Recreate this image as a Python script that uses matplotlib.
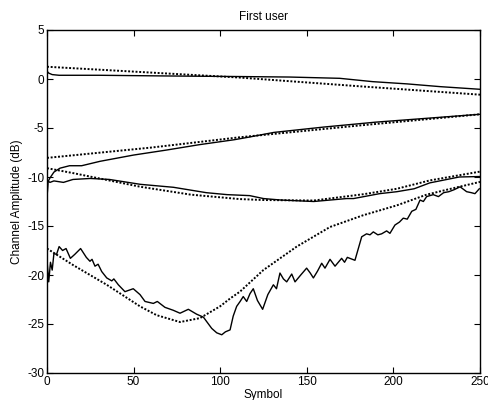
import matplotlib
matplotlib.use("Agg")
import matplotlib.pyplot as plt

plt.rcParams['font.family'] = ['Liberation Sans', 'DejaVu Sans']
plt.rcParams['axes.unicode_minus'] = False

# channel 1 (top) - estimate and true
ch1_sym = [0, 1, 3, 7, 30, 69, 111, 140, 169, 188, 208, 227, 250]
ch1_est = [0.8, 0.6, 0.45, 0.38, 0.38, 0.31, 0.25, 0.2, 0.07, -0.27, -0.5, -0.78, -1.05]
ch1_true_sym = [0, 111, 181, 250]
ch1_true = [1.25, 0.15, -0.75, -1.6]

# channel 2 (rising)
ch2_sym = [0, 0.5, 1.7, 4, 7.5, 13, 20, 30.6, 50, 69, 88, 108, 116, 131, 160, 190, 220, 250]
ch2_est = [-12.3, -10.5, -10.1, -9.5, -9.1, -8.85, -8.85, -8.4, -7.76, -7.25, -6.7, -6.2,
           -5.95, -5.45, -4.9, -4.4, -4.0, -3.6]
ch2_true_sym = [0, 60, 111, 180, 250]
ch2_true = [-8.05, -7.0, -5.95, -4.75, -3.6]

# channel 3 (shallow dip)
ch3_sym = [0, 0.5, 1.7, 4, 9.5, 15, 25, 36, 54, 73, 92, 104, 117, 125, 135, 154, 173, 177,
           192, 202, 212, 221, 238, 250]
ch3_est = [-12.3, -10.4, -10.55, -10.4, -10.55, -10.25, -10.15, -10.25, -10.75, -11.05, -11.6,
           -11.8, -11.9, -12.2, -12.35, -12.5, -12.2, -12.2, -11.7, -11.5, -11.2, -10.6, -10.0, -9.95]
ch3_true_sym = [0, 15, 54, 83, 111, 125, 154, 183, 202, 221, 250]
ch3_true = [-9.1, -9.6, -11.0, -11.8, -12.25, -12.35, -12.4, -11.75, -11.2, -10.35, -9.45]

# channel 4 (deep fade)
ch4_sym = [0, 1, 2, 3, 4, 5.5, 7, 9, 11, 13.5, 16, 19.4, 22.7, 24.8, 26, 27.7, 29.5, 31.6,
           34.5, 37.4, 38.6, 41.2, 45, 49.8, 53.7, 56.6, 61.4, 63.7, 68.1, 72.9, 76.8, 81.6,
           86.4, 90.3, 95.1, 98, 100.9, 103, 105.7, 107.5, 109.5, 111.5, 113.3, 115.3, 117.2,
           119.1, 121.5, 124.5, 127.5, 130.7, 132.5, 134.5, 136.5, 138.4, 141.3, 143.2, 146.5,
           149.9, 152, 153.8, 156.2, 158.6, 160.5, 163.4, 166.3, 168.2, 170.1, 171.8, 173.4,
           177.8, 181.7, 184.5, 186.5, 188.4, 191, 193.2, 196.1, 198, 200.9, 203.5, 205.7, 208,
           210.6, 213, 215.4, 217.3, 219.2, 223, 226, 229, 232, 235, 238.5, 242.3, 245, 247.1, 249.6]
ch4_est = [-18.5, -20.7, -18.7, -19.5, -17.8, -17.9, -17.1, -17.5, -17.3, -18.3, -17.9, -17.3,
           -18.2, -18.6, -18.4, -19.1, -18.9, -19.65, -20.3, -20.6, -20.4, -21.0, -21.7, -21.4,
           -22.0, -22.7, -22.9, -22.7, -23.3, -23.6, -23.9, -23.5, -24.0, -24.3, -25.45, -25.9,
           -26.1, -25.8, -25.6, -24.2, -23.2, -22.7, -22.2, -22.7, -21.9, -21.4, -22.6, -23.5,
           -22.0, -21.0, -21.4, -19.8, -20.4, -20.7, -19.9, -20.7, -20.0, -19.3, -19.8, -20.3,
           -19.6, -18.8, -19.3, -18.4, -19.1, -18.7, -18.3, -18.7, -18.2, -18.5, -16.1, -15.8,
           -15.9, -15.6, -15.9, -15.8, -15.5, -15.75, -14.9, -14.6, -14.2, -14.3, -13.5, -13.3,
           -12.35, -12.5, -12.0, -11.8, -12.0, -11.6, -11.5, -11.3, -11.0, -11.5, -11.6, -11.7, -11.2]
ch4_true_sym = [0, 15.2, 34.5, 53.7, 63.3, 76.8, 88.3, 99.9, 105.7, 111.4, 124.9, 144.2,
                163.4, 182.6, 201.9, 219.2, 230.8, 250]
ch4_true = [-17.3, -19.0, -21.0, -23.2, -24.1, -24.8, -24.4, -23.2, -22.4, -21.7, -19.5,
            -17.1, -15.1, -13.9, -12.9, -11.8, -11.3, -10.5]

xticks = [0, 50, 100, 150, 200, 250]
yticks = [-30, -25, -20, -15, -10, -5, 0, 5]

fig = plt.figure(figsize=(4.89, 4.0), dpi=100)
ax = fig.add_axes([47 / 489, 27 / 400, 433 / 489, 343 / 400])

for sym, est, tsym, tru in [(ch1_sym, ch1_est, ch1_true_sym, ch1_true),
                             (ch2_sym, ch2_est, ch2_true_sym, ch2_true),
                             (ch3_sym, ch3_est, ch3_true_sym, ch3_true),
                             (ch4_sym, ch4_est, ch4_true_sym, ch4_true)]:
    ax.plot(sym, est, color='black', linewidth=1.0)
    ax.plot(tsym, tru, color='black', linestyle=(0, (1, 0.9)), linewidth=1.4)

ax.set_xlim(0, 250)
ax.set_ylim(-30, 5)
ax.set_xticks(xticks)
ax.set_yticks(yticks)
ax.tick_params(direction='in', top=True, right=True, length=4, width=0.8, labelsize=8.5, pad=2)
for sp in ax.spines.values():
    sp.set_linewidth(1.0)

ax.set_title('First user', fontsize=8.5, pad=7)
ax.set_xlabel('Symbol', fontsize=8.5, labelpad=1)
ax.set_ylabel('Channel Amplitude (dB)', fontsize=8.5, labelpad=3)

fig.savefig('out.png', dpi=100)
